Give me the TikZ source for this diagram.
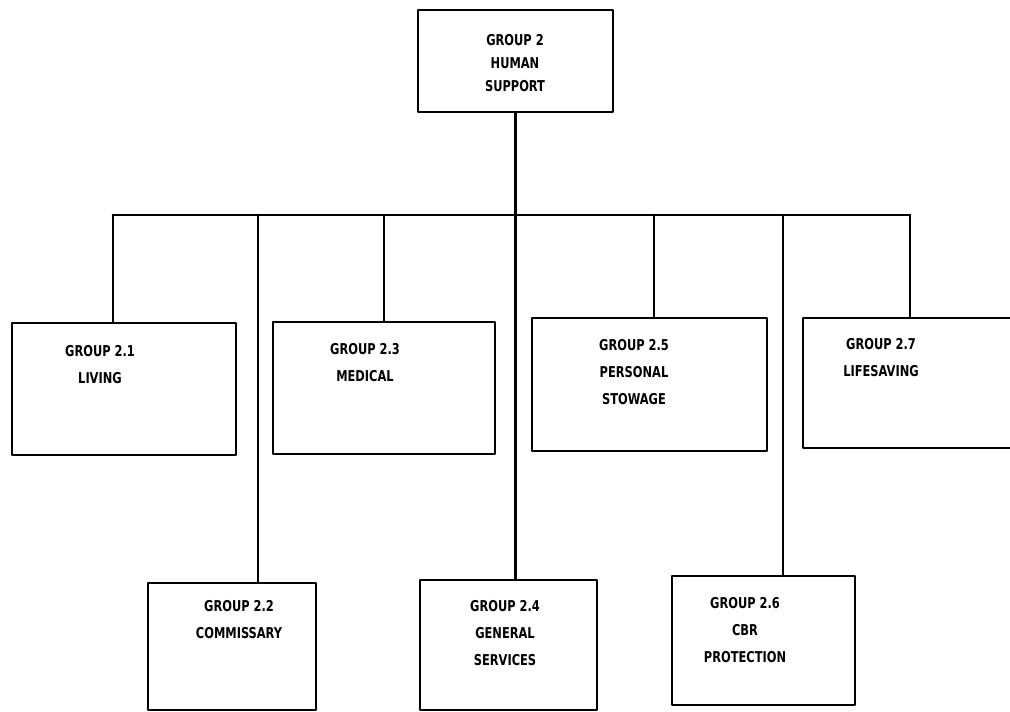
\documentclass[tikz,border=0pt]{standalone}
\usepackage{fontspec}
\newfontfamily\orgfont[FakeStretch=0.85]{DejaVu Sans Condensed Bold}
\usetikzlibrary{positioning}
\tikzset{
  every picture/.append style={line cap=round,line join=round},
  org box/.style={draw,line width=1.6pt,inner sep=0pt},
  org link/.style={line width=1.6pt},
  org text/.style={font=\orgfont\fontsize{8.5}{15.5}\selectfont,align=center,inner sep=0pt}
}

\begin{document}
\begin{tikzpicture}[x=0.02cm,y=-0.02cm]
  \useasboundingbox (0,0) rectangle (1010,711);
  % boxes: name / centre / width / height (cm)
  \node[org box,minimum width=3.9cm,minimum height=2.04cm] (g2) at (515.5,61) {};
  \foreach \n/\cx/\cy/\w/\h in {21/124/389/4.48/2.64, 23/384/388/4.44/2.64,
      25/649.5/384.5/4.7/2.66, 27/916/383/4.52/2.6,
      22/232/646.5/3.36/2.54, 24/508.5/645/3.54/2.6, 26/763.5/640.5/3.66/2.58} {
    \node[org box,minimum width=\w cm,minimum height=\h cm] (g\n) at (\cx,\cy) {};
  }
  % labels
  \node[org text,font=\orgfont\fontsize{8.5}{13}\selectfont] (t2) at (515,63) {GROUP 2\\HUMAN\\SUPPORT};
  \node[org text,anchor=north] (t21) at (100,345) {GROUP 2.1\\LIVING};
  \node[org text,anchor=north] (t23) at (365,343) {GROUP 2.3\\MEDICAL};
  \node[org text,anchor=north] (t25) at (634,339) {GROUP 2.5\\PERSONAL\\STOWAGE};
  \node[org text,anchor=north] (t27) at (881,338) {GROUP 2.7\\LIFESAVING};
  \node[org text,anchor=north] (t22) at (239,600) {GROUP 2.2\\COMMISSARY};
  \node[org text,anchor=north] (t24) at (505,600) {GROUP 2.4\\GENERAL\\SERVICES};
  \node[org text,anchor=north] (t26) at (745,597) {GROUP 2.6\\CBR\\PROTECTION};
  % bus and drops
  \draw[org link] (g2.south) -- (g2.south |- g24.north);
  \draw[org link] (113,215) coordinate (busl) -- (910,215) coordinate (busr);
  \foreach \n/\dx in {21/113, 22/258, 23/384, 25/654, 26/783, 27/910} {
    \draw[org link] (\dx,215) coordinate (d\n) -- (d\n |- g\n.north);
  }
\end{tikzpicture}
\end{document}
